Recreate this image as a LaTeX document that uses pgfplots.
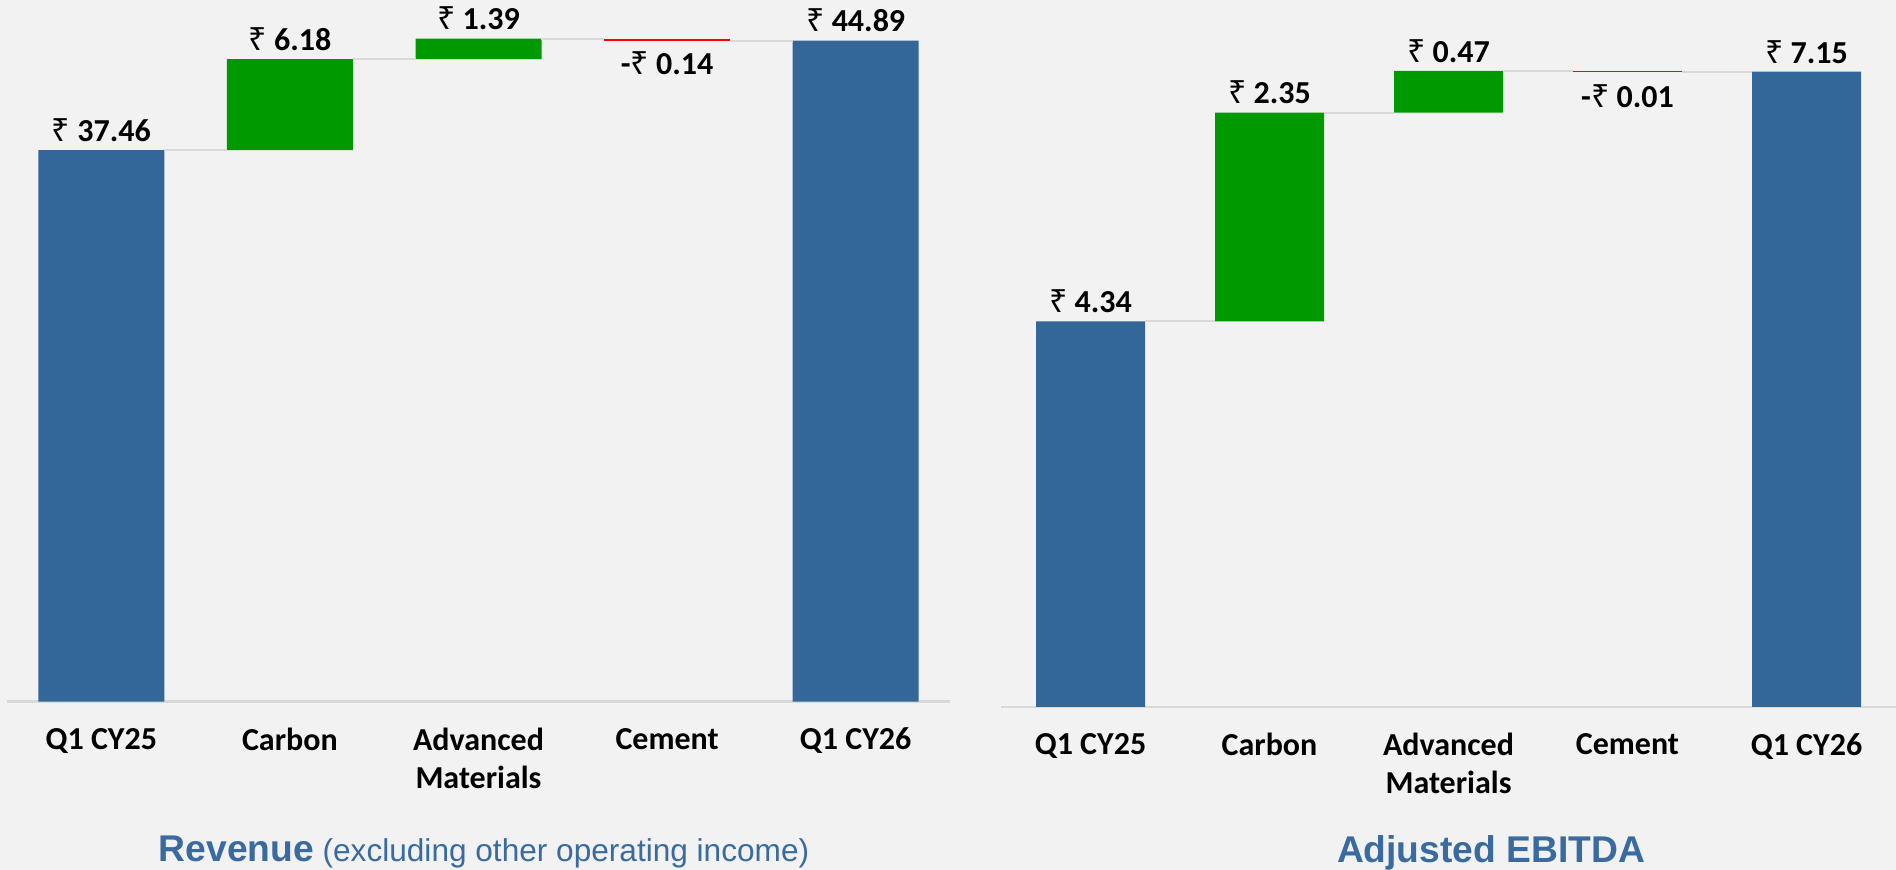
\documentclass[border=0pt]{standalone}
\usepackage{fontspec}
\setmainfont{Carlito}
\newfontfamily\arialfont{Liberation Sans}
\newfontfamily\rupeefont{Noto Sans}
\usepackage{pgfplots}
\pgfplotsset{compat=1.18}
\definecolor{bg}{HTML}{F2F2F2}
\definecolor{barblue}{HTML}{336699}
\definecolor{bargreen}{HTML}{009900}
\definecolor{barred}{HTML}{FF0000}
\definecolor{conn}{HTML}{D9D9D9}
\definecolor{titleblue}{HTML}{3A6BA0}
\protected\def\rs{{\rupeefont\bfseries ₹}}
\protected\def\lblfont{\bfseries\fontsize{16}{19}\selectfont}
\pgfplotsset{
  wfcommon/.style={
    scale only axis, anchor=south west,
    xmin=-0.5, xmax=4.5, ymin=0, clip=false,
  },
  wfbars/.style={
    wfcommon, ybar stacked,
    axis x line*=bottom, axis y line=none,
    x axis line style={draw=conn, line width=1.3pt},
    xtick={0,1,2,3,4},
    xticklabels={Q1 CY25, Carbon, {Advanced\\Materials}, Cement, Q1 CY26},
    xticklabel style={font=\lblfont, align=center, inner sep=0pt, anchor=north, yshift=-13pt},
    major tick length=0pt,
    ytick=\empty,
  },
  wfconn/.style={wfcommon, hide axis},
  lblabove/.style={nodes near coords, point meta=explicit symbolic,
    every node near coord/.append style={font=\lblfont, inner sep=0pt, anchor=south, yshift=4pt, text=black}},
  lblbelow/.style={nodes near coords, point meta=explicit symbolic,
    every node near coord/.append style={font=\lblfont, inner sep=0pt, anchor=north, yshift=-6.5pt, text=black}},
}
\begin{document}
\begin{tikzpicture}
\path[fill=bg, use as bounding box] (0,0) rectangle (948pt,-435pt);

% ---------------- Revenue ----------------
\begin{axis}[wfbars, at={(3.5pt,-350.85pt)}, width=471.5pt, height=350.85pt, ymax=47.65, bar width=63pt]
\addplot[draw=none, fill=none] coordinates {(0,0) (1,37.46) (2,43.64) (3,44.89) (4,0)};
\addplot[draw=none, fill=barblue] coordinates {(0,37.46) (1,0) (2,0) (3,0) (4,44.89)};
\addplot[draw=none, fill=bargreen] coordinates {(0,0) (1,6.18) (2,1.39) (3,0) (4,0)};
\addplot[draw=none, fill=barred] coordinates {(0,0) (1,0) (2,0) (3,0.14) (4,0)};
\end{axis}
\begin{axis}[wfconn, at={(3.5pt,-350.85pt)}, width=471.5pt, height=350.85pt, ymax=47.65]
\addplot[conn, line width=1pt] coordinates {(0.334,37.46) (0.666,37.46)};
\addplot[conn, line width=1pt] coordinates {(1.334,43.64) (1.666,43.64)};
\addplot[conn, line width=1pt] coordinates {(2.334,45.03) (2.666,45.03)};
\addplot[conn, line width=1pt] coordinates {(3.334,44.89) (3.666,44.89)};
\addplot[draw=none, lblabove] coordinates {(0,37.46)[\rs~37.46] (1,43.64)[\rs~6.18] (2,45.03)[\rs~1.39] (4,44.89)[\rs~44.89]};
\addplot[draw=none, lblbelow] coordinates {(3,45.03)[-\rs~0.14]};
\end{axis}

% ---------------- Adjusted EBITDA ----------------
\begin{axis}[wfbars, at={(500.5pt,-353.5pt)}, width=447.5pt, height=353.5pt, ymax=7.957, bar width=54.5pt]
\addplot[draw=none, fill=none] coordinates {(0,0) (1,4.34) (2,6.69) (3,7.15) (4,0)};
\addplot[draw=none, fill=barblue] coordinates {(0,4.34) (1,0) (2,0) (3,0) (4,7.15)};
\addplot[draw=none, fill=bargreen] coordinates {(0,0) (1,2.35) (2,0.47) (3,0) (4,0)};
\addplot[draw=none, fill=barred] coordinates {(0,0) (1,0) (2,0) (3,0.01) (4,0)};
\end{axis}
\begin{axis}[wfconn, at={(500.5pt,-353.5pt)}, width=447.5pt, height=353.5pt, ymax=7.957]
\addplot[conn, line width=1pt] coordinates {(0.3045,4.34) (0.6955,4.34)};
\addplot[conn, line width=1pt] coordinates {(1.3045,6.69) (1.6955,6.69)};
\addplot[conn, line width=1pt] coordinates {(2.3045,7.16) (2.6955,7.16)};
\addplot[conn, line width=1pt] coordinates {(3.3045,7.15) (3.6955,7.15)};
\addplot[draw=none, lblabove] coordinates {(0,4.34)[\rs~4.34] (1,6.69)[\rs~2.35] (2,7.16)[\rs~0.47] (4,7.15)[\rs~7.15]};
\addplot[draw=none, lblbelow] coordinates {(3,7.16)[-\rs~0.01]};
\end{axis}

% ---------------- Titles ----------------
\node[anchor=base, text=titleblue, font=\arialfont, inner sep=0pt] at (242pt,-431pt)
  {{\bfseries\fontsize{18.6}{22}\selectfont Revenue}{\fontsize{15.8}{19}\selectfont\ (excluding other operating income)}};
\node[anchor=base, text=titleblue, font=\arialfont\bfseries\fontsize{18.6}{22}\selectfont, inner sep=0pt] at (745.5pt,-431.5pt)
  {Adjusted EBITDA};
\end{tikzpicture}
\end{document}
